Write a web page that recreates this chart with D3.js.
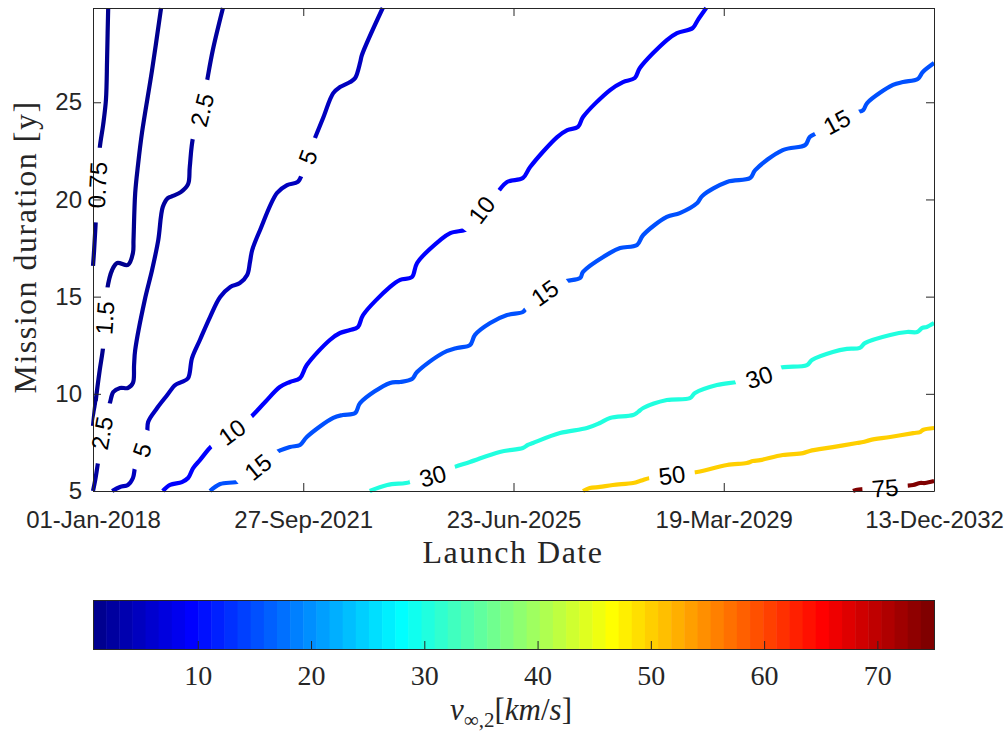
<!DOCTYPE html>
<html><head><meta charset="utf-8">
<script src="https://cdn.jsdelivr.net/npm/d3@7"></script>
<style>body{margin:0;background:#fff;} svg{display:block;}</style>
</head><body>
<svg id="chart" width="1007" height="734"></svg>
<script>
// ---------- data ----------
const xTickDates = ["2018-01-01","2021-09-27","2025-06-23","2029-03-19","2032-12-13"];
const xTickLabels = ["01-Jan-2018","27-Sep-2021","23-Jun-2025","19-Mar-2029","13-Dec-2032"];
const xDomain = ["2018-01-01","2032-12-13"];
const yTicks = [5,10,15,20,25];
const yDomain = [5, 29.85];
const levels = [0.75,1.5,2.5,5,10,15,30,50,75];
const colorbarTicks = [10,20,30,40,50,60,70];
const colorRange = [0.75, 75];

// contour lines: [launch date as decimal year, mission duration in years]
const line_0_75 = [[2018.00,16.58],[2018.02,17.40],[2018.05,18.94],[2018.08,20.74],[2018.12,22.65],[2018.18,23.83],[2018.23,25.12],[2018.25,27.17],[2018.26,28.56],[2018.27,29.85]];
const line_1_5 = [[2018.00,8.35],[2018.05,9.68],[2018.12,11.23],[2018.18,12.41],[2018.21,13.90],[2018.25,15.34],[2018.34,16.37],[2018.43,16.73],[2018.62,16.63],[2018.71,17.25],[2018.72,17.91],[2018.75,20.33],[2018.80,21.77],[2018.87,23.42],[2019.05,26.66],[2019.21,29.85]];
const line_2_5 = [[2018.00,5.00],[2018.04,5.57],[2018.09,6.49],[2018.16,7.98],[2018.25,9.17],[2018.30,9.53],[2018.36,10.09],[2018.48,10.30],[2018.62,10.30],[2018.71,10.56],[2018.73,11.48],[2018.75,12.25],[2018.92,14.83],[2019.05,16.37],[2019.16,17.91],[2019.24,19.61],[2019.33,20.07],[2019.42,20.18],[2019.56,20.38],[2019.69,20.79],[2019.72,21.67],[2019.78,23.21],[2019.94,24.60],[2020.03,26.14],[2020.13,27.69],[2020.31,29.85]];
const line_5 = [[2018.34,5.00],[2018.48,5.21],[2018.62,5.31],[2018.71,5.67],[2018.75,6.24],[2018.87,7.11],[2018.96,7.78],[2018.98,8.55],[2019.14,9.27],[2019.32,9.94],[2019.46,10.45],[2019.58,10.61],[2019.69,10.81],[2019.76,11.84],[2019.90,12.77],[2020.08,13.95],[2020.26,14.98],[2020.44,15.50],[2020.61,15.70],[2020.74,16.11],[2020.79,16.78],[2020.83,17.40],[2020.97,18.43],[2021.27,20.33],[2021.45,20.74],[2021.64,20.90],[2021.73,21.41],[2021.82,22.18],[2021.91,22.90],[2022.09,24.19],[2022.27,25.47],[2022.39,25.78],[2022.57,26.04],[2022.66,26.25],[2022.75,27.07],[2022.78,27.43],[2023.15,29.85]];
const line_10 = [[2019.24,5.00],[2019.37,5.31],[2019.58,5.46],[2019.69,5.67],[2019.78,6.18],[2019.90,6.59],[2020.13,7.37],[2020.47,8.03],[2020.79,8.76],[2021.06,9.58],[2021.32,10.35],[2021.50,10.61],[2021.68,10.81],[2021.80,11.48],[2022.21,12.77],[2022.39,13.13],[2022.57,13.28],[2022.71,13.44],[2022.80,14.05],[2023.28,15.50],[2023.46,15.86],[2023.67,16.01],[2023.76,16.73],[2024.17,17.91],[2024.35,18.27],[2024.70,18.53],[2024.91,19.46],[2025.18,20.33],[2025.36,20.90],[2025.64,21.10],[2025.77,21.67],[2026.25,23.21],[2026.43,23.57],[2026.62,23.73],[2026.71,24.24],[2027.19,25.63],[2027.42,26.04],[2027.63,26.25],[2027.72,26.76],[2028.20,28.20],[2028.38,28.56],[2028.66,28.82],[2028.75,29.23],[2028.90,29.85]];
const line_15 = [[2020.08,5.00],[2020.26,5.36],[2020.61,5.51],[2020.93,6.23],[2021.20,6.90],[2021.50,7.26],[2021.68,7.37],[2021.80,7.78],[2022.27,8.76],[2022.44,8.91],[2022.66,9.01],[2022.75,9.53],[2023.28,10.56],[2023.46,10.61],[2023.67,10.76],[2023.76,11.12],[2024.22,12.10],[2024.47,12.36],[2024.70,12.51],[2024.79,13.03],[2025.06,13.64],[2025.36,14.05],[2025.64,14.21],[2025.71,14.42],[2026.03,15.19],[2026.35,15.75],[2026.66,15.96],[2026.71,16.27],[2027.19,17.25],[2027.37,17.50],[2027.67,17.66],[2027.78,18.17],[2028.20,19.10],[2028.43,19.30],[2028.74,19.82],[2028.83,20.18],[2029.27,20.90],[2029.68,21.10],[2029.77,21.51],[2030.26,22.54],[2030.66,22.80],[2030.74,23.21],[2030.87,23.42],[2031.22,23.98],[2031.54,24.45],[2031.69,24.60],[2031.76,24.96],[2032.22,25.89],[2032.40,26.04],[2032.66,26.20],[2032.75,26.56],[2032.95,27.02]];
const line_30 = [[2022.92,5.00],[2023.23,5.31],[2023.63,5.46],[2023.69,5.62],[2024.04,5.77],[2024.43,6.24],[2024.70,6.49],[2025.23,7.01],[2025.64,7.21],[2025.73,7.37],[2025.82,7.47],[2026.30,7.98],[2026.78,8.24],[2027.01,8.50],[2027.19,8.76],[2027.60,8.91],[2027.69,9.07],[2027.78,9.27],[2028.20,9.68],[2028.61,9.78],[2028.70,10.04],[2029.09,10.45],[2029.45,10.61],[2029.84,10.86],[2030.18,11.33],[2030.69,11.48],[2030.78,11.74],[2031.15,12.15],[2031.40,12.31],[2031.63,12.36],[2031.72,12.61],[2032.17,13.03],[2032.47,13.18],[2032.65,13.18],[2032.74,13.39],[2032.82,13.44],[2032.95,13.64]];
const line_50 = [[2026.71,5.00],[2026.83,5.15],[2027.01,5.21],[2027.24,5.31],[2027.60,5.41],[2027.72,5.51],[2027.78,5.57],[2027.90,5.67],[2028.29,5.82],[2028.74,5.98],[2029.27,6.34],[2029.62,6.44],[2029.73,6.54],[2029.86,6.59],[2030.26,6.85],[2030.62,6.95],[2030.74,7.06],[2031.15,7.26],[2031.58,7.47],[2031.69,7.52],[2031.81,7.62],[2032.17,7.78],[2032.58,7.98],[2032.70,8.03],[2032.75,8.14],[2032.95,8.24]];
const line_75 = [[2031.51,5.00],[2031.56,5.05],[2031.72,5.10],[2032.08,5.15],[2032.43,5.26],[2032.58,5.31],[2032.70,5.41],[2032.79,5.41],[2032.95,5.51]];

// label anchor points (on the lines)
const labels_0_75 = [[2018.08,20.74]];
const labels_1_5 = [[2018.21,13.90]];
const labels_2_5 = [[2018.16,7.98],[2019.94,24.60]];
const labels_5 = [[2018.87,7.11],[2021.82,22.18]];
const labels_10 = [[2020.47,8.03],[2024.91,19.46]];
const labels_15 = [[2020.93,6.23],[2026.03,15.19],[2031.22,23.98]];
const labels_30 = [[2024.04,5.77],[2029.84,10.86]];
const labels_50 = [[2028.29,5.82]];
const labels_75 = [[2032.08,5.15]];

const contourLines = [line_0_75,line_1_5,line_2_5,line_5,line_10,line_15,line_30,line_50,line_75];
const contourLabels = [labels_0_75,labels_1_5,labels_2_5,labels_5,labels_10,labels_15,labels_30,labels_50,labels_75];
const levelText = ["0.75","1.5","2.5","5","10","15","30","50","75"];

// ---------- helpers ----------
function jet(m){
  const n = Math.ceil(m/4);
  const u = [];
  for(let i=1;i<=n;i++) u.push(i/n);
  for(let i=1;i<n;i++) u.push(1);
  for(let i=n;i>=1;i--) u.push(i/n);
  const off = Math.ceil(n/2) - (m%4===1?1:0);
  const J = Array.from({length:m},()=>[0,0,0]);
  u.forEach((v,k)=>{
    const g = off + k + 1, r = g + n, b = g - n;
    if(g>=1&&g<=m) J[g-1][1]=v;
    if(r>=1&&r<=m) J[r-1][0]=v;
    if(b>=1&&b<=m) J[b-1][2]=v;
  });
  return J.map(c=>d3.rgb(Math.round(c[0]*255),Math.round(c[1]*255),Math.round(c[2]*255)).formatHex());
}
const cmap = jet(64);
const colorFor = v => cmap[Math.max(0,Math.min(63,Math.floor((v-colorRange[0])/(colorRange[1]-colorRange[0])*64)))];
const toDate = yr => new Date(Date.UTC(2018,0,1) + (yr-2018)*365.25*864e5);

// ---------- layout ----------
const svg = d3.select("#chart");
const P = {left:93, top:8, width:841, height:483};
const AX = "#262626";
const sans = "'Liberation Sans', Arial, Helvetica, sans-serif";
const serif = "'Liberation Serif', 'Times New Roman', serif";

const x = d3.scaleUtc().domain(xDomain.map(d=>new Date(d+"T00:00:00Z"))).range([0,P.width]);
const y = d3.scaleLinear().domain(yDomain).range([P.height,0]);

const defs = svg.append("defs");
const mask = defs.append("mask").attr("id","lblmask").attr("maskUnits","userSpaceOnUse")
  .attr("maskContentUnits","userSpaceOnUse")
  .attr("x",-200).attr("y",-200).attr("width",1400).attr("height",1200);
mask.append("rect").attr("x",-200).attr("y",-200).attr("width",1400).attr("height",1200).attr("fill","#fff");

const plot = svg.append("g").attr("transform",`translate(${P.left},${P.top})`);
const gLines = plot.append("g").attr("mask","url(#lblmask)");
const lineGen = d3.line().x(d=>x(toDate(d[0]))).y(d=>y(d[1])).curve(d3.curveCatmullRom.alpha(0.5));

contourLines.forEach((pts,i)=>{
  gLines.append("path").attr("d",lineGen(pts)).attr("fill","none")
    .attr("stroke",colorFor(levels[i])).attr("stroke-width",4.2)
    .attr("stroke-linejoin","round").attr("stroke-linecap","butt");
});

// axes
const xTicks = xTickDates.map(d=>new Date(d+"T00:00:00Z"));
const gx = plot.append("g").attr("transform",`translate(0,${P.height})`)
  .call(d3.axisBottom(x).tickValues(xTicks).tickFormat((d,i)=>xTickLabels[i]).tickSizeInner(-8).tickSizeOuter(0).tickPadding(20));
const gxt = plot.append("g")
  .call(d3.axisTop(x).tickValues(xTicks).tickFormat("").tickSizeInner(-8).tickSizeOuter(0));
const gy = plot.append("g")
  .call(d3.axisLeft(y).tickValues(yTicks).tickSizeInner(-8).tickSizeOuter(0).tickPadding(11));
const gyr = plot.append("g").attr("transform",`translate(${P.width},0)`)
  .call(d3.axisRight(y).tickValues(yTicks).tickFormat("").tickSizeInner(-8).tickSizeOuter(0));
[gx,gxt,gy,gyr].forEach(g=>{
  g.selectAll("path,line").attr("stroke",AX).attr("stroke-width",1);
  g.selectAll("text").attr("fill",AX).style("font-family",sans).style("font-size","24px");
});
gx.selectAll("text").attr("dy","0.71em");

// contour labels
const gLbl = plot.append("g");
contourLines.forEach((pts,i)=>{
  const scr = pts.map(d=>[x(toDate(d[0])), y(d[1])]);
  const cum=[0];
  for(let k=1;k<scr.length;k++) cum.push(cum[k-1]+Math.hypot(scr[k][0]-scr[k-1][0],scr[k][1]-scr[k-1][1]));
  const at = s=>{
    s=Math.max(0,Math.min(cum[cum.length-1],s));
    let k=1; while(k<cum.length-1 && cum[k]<s) k++;
    const t=(s-cum[k-1])/((cum[k]-cum[k-1])||1);
    return [scr[k-1][0]+t*(scr[k][0]-scr[k-1][0]), scr[k-1][1]+t*(scr[k][1]-scr[k-1][1])];
  };
  contourLabels[i].forEach(lp=>{
    const p=[x(toDate(lp[0])), y(lp[1])];
    let best=Infinity, bs=0;
    for(let k=1;k<scr.length;k++){
      const a=scr[k-1], b=scr[k];
      const dx=b[0]-a[0], dy=b[1]-a[1], L2=dx*dx+dy*dy||1;
      let t=((p[0]-a[0])*dx+(p[1]-a[1])*dy)/L2; t=Math.max(0,Math.min(1,t));
      const q=[a[0]+t*dx,a[1]+t*dy], dd=Math.hypot(p[0]-q[0],p[1]-q[1]);
      if(dd<best){best=dd; bs=cum[k-1]+t*Math.sqrt(L2);}
    }
    const c=at(bs), p1=at(bs-20), p2=at(bs+20);
    let ang=Math.atan2(p2[1]-p1[1],p2[0]-p1[0])*180/Math.PI;
    if(ang>90) ang-=180; if(ang<-90) ang+=180;
    const t = gLbl.append("text").attr("transform",`translate(${c[0]},${c[1]}) rotate(${ang})`)
      .attr("text-anchor","middle").attr("dominant-baseline","central")
      .style("font-family",sans).style("font-size","24px").attr("fill","#000").text(levelText[i]);
    const w = t.node().getComputedTextLength();
    const pad = 18 + 10*Math.abs(Math.sin(ang*Math.PI/180));
    mask.append("rect").attr("x",-(w+pad)/2).attr("y",-10).attr("width",w+pad).attr("height",20)
      .attr("fill","#000").attr("transform",`translate(${c[0]},${c[1]}) rotate(${ang})`);
  });
});

// axis titles
svg.append("text").attr("x",513).attr("y",563).attr("text-anchor","middle")
  .style("font-family",serif).style("font-size","32px").style("letter-spacing","1.5px").attr("fill",AX).text("Launch Date");
svg.append("text").attr("transform","translate(36,247) rotate(-90)").attr("text-anchor","middle")
  .style("font-family",serif).style("font-size","32px").style("letter-spacing","1.5px").attr("fill",AX).text("Mission duration [y]");

// colorbar
const CB = {left:93, top:600, width:841, height:49};
const cx = d3.scaleLinear().domain(colorRange).range([CB.left, CB.left+CB.width]);
const step = (colorRange[1]-colorRange[0])/cmap.length;
const gcb = svg.append("g");
gcb.selectAll("rect.band").data(cmap).join("rect").attr("class","band")
  .attr("x",(d,i)=>cx(colorRange[0]+i*step)).attr("y",CB.top)
  .attr("width",(d,i)=>cx(colorRange[0]+(i+1)*step)-cx(colorRange[0]+i*step)+0.5)
  .attr("height",CB.height).attr("fill",d=>d);
const gcbAx = svg.append("g").attr("transform",`translate(0,${CB.top+CB.height})`)
  .call(d3.axisBottom(cx).tickValues(colorbarTicks).tickSizeInner(-8).tickSizeOuter(0));
gcbAx.select(".domain").remove();
gcbAx.selectAll("line").attr("stroke",AX);
gcbAx.selectAll("text").attr("dy",null).attr("y",36).attr("fill",AX)
  .style("font-family",serif).style("font-size","28px");
svg.append("rect").attr("x",CB.left+0.5).attr("y",CB.top+0.5).attr("width",CB.width).attr("height",CB.height)
  .attr("fill","none").attr("stroke",AX).attr("stroke-width",1);

const cbl = svg.append("text").attr("x",511).attr("y",720).attr("text-anchor","middle")
  .style("font-family",serif).style("font-size","31px").attr("fill",AX);
cbl.append("tspan").style("font-style","italic").text("v");
cbl.append("tspan").attr("dy",7).style("font-size","21px").text("∞,2");
cbl.append("tspan").attr("dy",-7).text("[");
cbl.append("tspan").style("font-style","italic").text("km");
cbl.append("tspan").text("/");
cbl.append("tspan").style("font-style","italic").text("s");
cbl.append("tspan").text("]");
</script>
</body></html>
